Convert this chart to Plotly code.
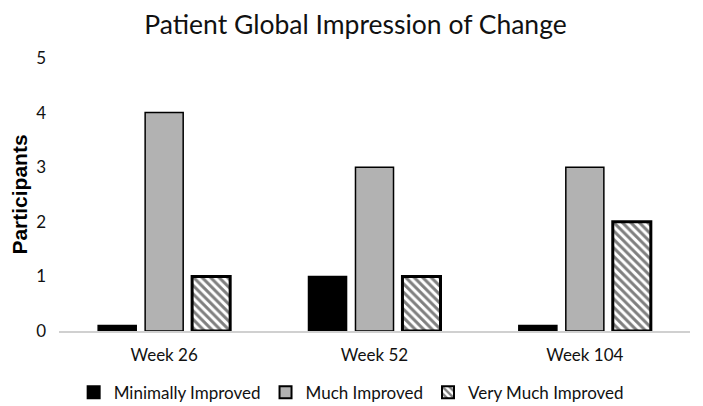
import plotly.graph_objects as go

categories = ["Week 26", "Week 52", "Week 104"]
minimally = [0.1, 1, 0.1]
much = [4, 3, 3]
very_much = [1, 1, 2]
y_ticks = [0, 1, 2, 3, 4, 5]

FONT = "Lato, Open Sans, sans-serif"

fig = go.Figure()
fig.add_trace(go.Bar(
    name="Minimally Improved", x=categories, y=minimally,
    marker=dict(color="black", line=dict(color="black", width=1.5)),
))
fig.add_trace(go.Bar(
    name="Much Improved", x=categories, y=much,
    marker=dict(color="#b2b2b2", line=dict(color="black", width=1.5)),
))
fig.add_trace(go.Bar(
    name="Very Much Improved", x=categories, y=very_much,
    marker=dict(color="white", line=dict(color="black", width=3),
                pattern=dict(shape="\\", fgcolor="black", bgcolor="white",
                             size=6, solidity=0.5, fillmode="overlay")),
))

fig.update_layout(
    width=695, height=398,
    margin=dict(l=51, r=13, t=50, b=75, autoexpand=False),
    paper_bgcolor="white", plot_bgcolor="white",
    barmode="group", bargap=0.33, bargroupgap=0.19,
    title=dict(text="Patient Global Impression of Change", x=0.5, xanchor="center",
               y=0.982, yanchor="top",
               font=dict(family=FONT, size=26.5, color="#111111")),
    font=dict(family=FONT, size=17, color="#111111"),
    showlegend=True,
    legend=dict(orientation="h", x=0.463, xanchor="center", y=-0.16, yanchor="top",
                font=dict(family=FONT, size=17, color="#111111"),
                itemsizing="constant", traceorder="normal", itemwidth=30),
    xaxis=dict(showline=True, linecolor="#d0d0d0", linewidth=1.5, ticks="",
               showgrid=False, tickfont=dict(size=17), ticklabelstandoff=8),
    yaxis=dict(range=[0, 5], tickvals=y_ticks, showgrid=False, zeroline=False,
               showline=False, ticks="", tickfont=dict(size=17),
               ticklabelstandoff=12,
               title=dict(text="<b>Participants</b>",
                          font=dict(family="Liberation Sans, Arial, sans-serif", size=21, color="black"),
                          standoff=14)),
)

fig.write_html("out.html")
